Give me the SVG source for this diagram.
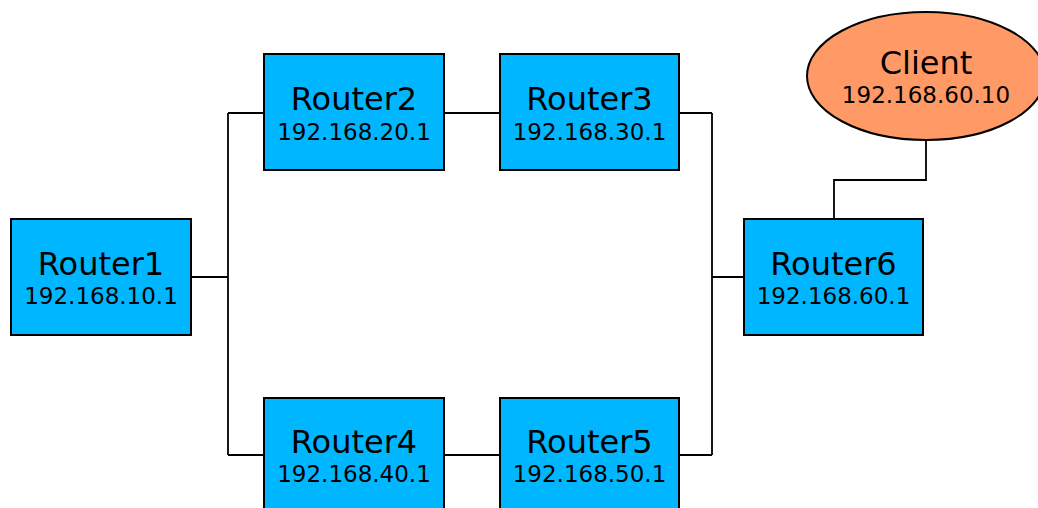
<svg xmlns="http://www.w3.org/2000/svg" width="1038" height="508" viewBox="0 0 1038 508">
  <style>
    .router rect { fill: #00b7ff; stroke: #000; stroke-width: 2; }
    .client ellipse { fill: #ff9966; stroke: #000; stroke-width: 2; }
    .name { font-family: "DejaVu Sans", sans-serif; font-size: 32px; text-anchor: middle; fill: #000; }
    .ip { font-family: "DejaVu Sans", sans-serif; font-size: 23px; text-anchor: middle; fill: #000; }
    #links path { fill: none; stroke: #000; stroke-width: 1.8; }
  </style>
  <rect width="1038" height="508" fill="#fff"/>

  <!-- links between nodes (orthogonal routing) -->
  <g id="links">
    <path d="M191,277 H228 M228,113 V455 M228,113 H264 M228,455 H264"/>
    <path d="M444,113 H500"/>
    <path d="M444,455 H500"/>
    <path d="M679,113 H712 M679,455 H712 M712,113 V455 M712,277 H744"/>
    <path d="M926,140 V180 H834 V219"/>
  </g>

  <g id="router1" class="router">
    <rect x="11" y="219" width="180" height="116"/>
    <text class="name" x="101" y="275">Router1</text>
    <text class="ip" x="101" y="304">192.168.10.1</text>
  </g>
  <g id="router2" class="router">
    <rect x="264" y="54" width="180" height="116"/>
    <text class="name" x="354" y="110">Router2</text>
    <text class="ip" x="354" y="140">192.168.20.1</text>
  </g>
  <g id="router3" class="router">
    <rect x="500" y="54" width="179" height="116"/>
    <text class="name" x="589.5" y="110">Router3</text>
    <text class="ip" x="589.5" y="140">192.168.30.1</text>
  </g>
  <g id="router4" class="router">
    <rect x="264" y="398" width="180" height="116"/>
    <text class="name" x="354" y="453">Router4</text>
    <text class="ip" x="354" y="482">192.168.40.1</text>
  </g>
  <g id="router5" class="router">
    <rect x="500" y="398" width="179" height="116"/>
    <text class="name" x="589.5" y="453">Router5</text>
    <text class="ip" x="589.5" y="482">192.168.50.1</text>
  </g>
  <g id="router6" class="router">
    <rect x="744" y="219" width="179" height="116"/>
    <text class="name" x="833.5" y="275">Router6</text>
    <text class="ip" x="833.5" y="304">192.168.60.1</text>
  </g>
  <g id="client" class="client">
    <ellipse cx="926" cy="76" rx="119" ry="64"/>
    <text class="name" x="926" y="74">Client</text>
    <text class="ip" x="926" y="103">192.168.60.10</text>
  </g>
</svg>
